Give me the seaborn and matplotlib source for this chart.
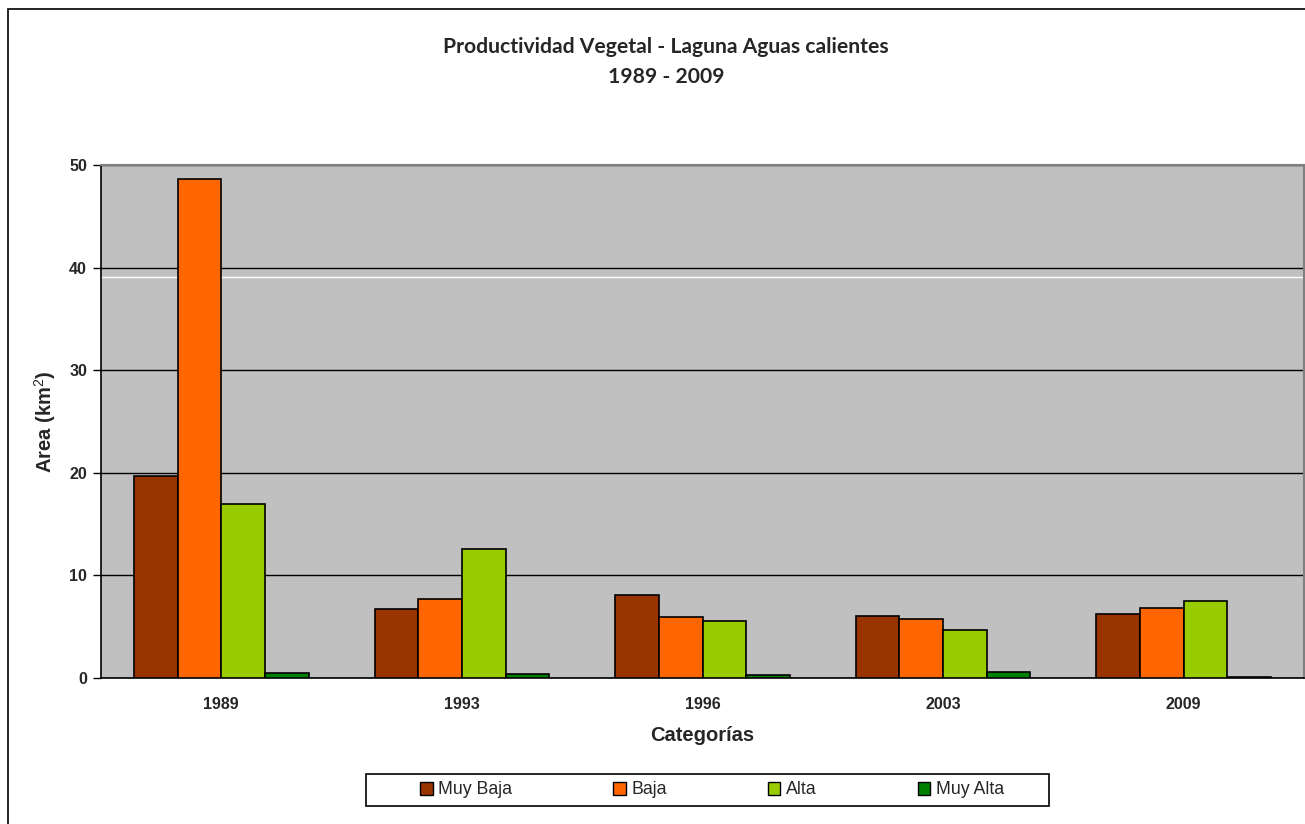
import matplotlib
matplotlib.use("Agg")
import matplotlib.pyplot as plt
from matplotlib.patches import Rectangle
from matplotlib.ticker import FixedLocator
import seaborn as sns
import pandas as pd

# Area (km²) of each vegetation productivity class per year
years = ["1989", "1993", "1996", "2003", "2009"]
classes = ["Muy Baja", "Baja", "Alta", "Muy Alta"]
muy_baja = [19.7, 6.7, 8.1, 6.0, 6.25]
baja = [48.6, 7.7, 5.9, 5.75, 6.85]
alta = [17.0, 12.6, 5.6, 4.65, 7.55]
muy_alta = [0.5, 0.35, 0.25, 0.6, 0.12]
colors = ["#993300", "#FF6600", "#99CC00", "#008000"]

df = pd.DataFrame({
    "Año": years * 4,
    "Clase": [c for c in classes for _ in years],
    "Area": muy_baja + baja + alta + muy_alta,
})

sns.set_theme(style="white")
plt.rcParams["font.family"] = ["Liberation Sans", "DejaVu Sans"]
plt.rcParams["mathtext.fontset"] = "custom"
plt.rcParams["mathtext.rm"] = "Liberation Sans"
plt.rcParams["mathtext.bf"] = "Liberation Sans:bold"

fig = plt.figure(figsize=(13.05, 8.24), dpi=100)
ax = fig.add_axes([101 / 1305, 1 - 678 / 824, 1203 / 1305, 513 / 824])
ax.set_facecolor("#C0C0C0")

sns.barplot(data=df, x="Año", y="Area", hue="Clase", order=years,
            hue_order=classes, palette=colors, width=0.726,
            edgecolor="black", linewidth=1.2, saturation=1,
            ax=ax, legend=True, zorder=3)

ax.set_xlim(-0.5, len(years) - 0.5)
ax.set_ylim(0, 50)
ax.set_yticks([0, 10, 20, 30, 40, 50])
ax.yaxis.grid(True, color="black", linewidth=1.0, zorder=1)
ax.set_axisbelow(True)
ax.axhline(39.1, color="white", linewidth=1.0, zorder=2)

# category separators on the x axis
ax.set_xticks(range(len(years)))
ax.xaxis.set_minor_locator(FixedLocator([i + 0.5 for i in range(-1, len(years))]))
ax.tick_params(axis="x", which="major", length=0, pad=14)
ax.tick_params(axis="x", which="minor", length=6, width=1, color="black", direction="out")
ax.tick_params(axis="y", length=6, width=1, color="black", direction="out", left=True, pad=4)

for lab in ax.get_xticklabels():
    lab.set_fontweight("bold")
    lab.set_fontsize(11.5)
for lab in ax.get_yticklabels():
    lab.set_fontweight("bold")
    lab.set_fontsize(11.5)

for side in ("left", "bottom"):
    ax.spines[side].set_color("black")
    ax.spines[side].set_linewidth(1.2)
for side in ("top", "right"):
    ax.spines[side].set_color("#808080")
    ax.spines[side].set_linewidth(1.5)

ax.set_xlabel("Categorías", fontsize=14.5, fontweight="bold", labelpad=10)
ax.set_ylabel("Area (km$^{\\mathrm{2}}$)", fontsize=14.5, fontweight="bold", labelpad=8)

title_font = ["Lato", "DejaVu Sans"]
fig.text(666 / 1305, 1 - 47 / 824, "Productividad Vegetal - Laguna Aguas calientes",
         ha="center", va="center", fontsize=15.2, fontweight="bold", family=title_font)
fig.text(666 / 1305, 1 - 77 / 824, "1989 - 2009",
         ha="center", va="center", fontsize=15.2, fontweight="bold", family=title_font)

# legend entries inside a plain rectangular box
ax.get_legend().remove()
handles = [Rectangle((0, 0), 1, 1, facecolor=c, edgecolor="black", linewidth=1) for c in colors]
leg = fig.legend(handles, classes, loc="center",
                 bbox_to_anchor=(712 / 1305, 1 - 790 / 824), ncol=4,
                 frameon=False, fontsize=12.8, handlelength=0.7, handleheight=0.7,
                 handletextpad=0.3, columnspacing=5.7, borderpad=0.45)
fig.patches.append(Rectangle((366 / 1305, 1 - 806 / 824), 683 / 1305, 32 / 824,
                             transform=fig.transFigure, facecolor="white",
                             edgecolor="black", linewidth=1.2, zorder=0))

# outer chart frame
fig.patches.append(Rectangle((8 / 1305, -0.05), 1.1, 1 - 9 / 824 + 0.05,
                             transform=fig.transFigure, fill=False,
                             edgecolor="black", linewidth=1.2, clip_on=False))

fig.savefig("out.png", dpi=100)
